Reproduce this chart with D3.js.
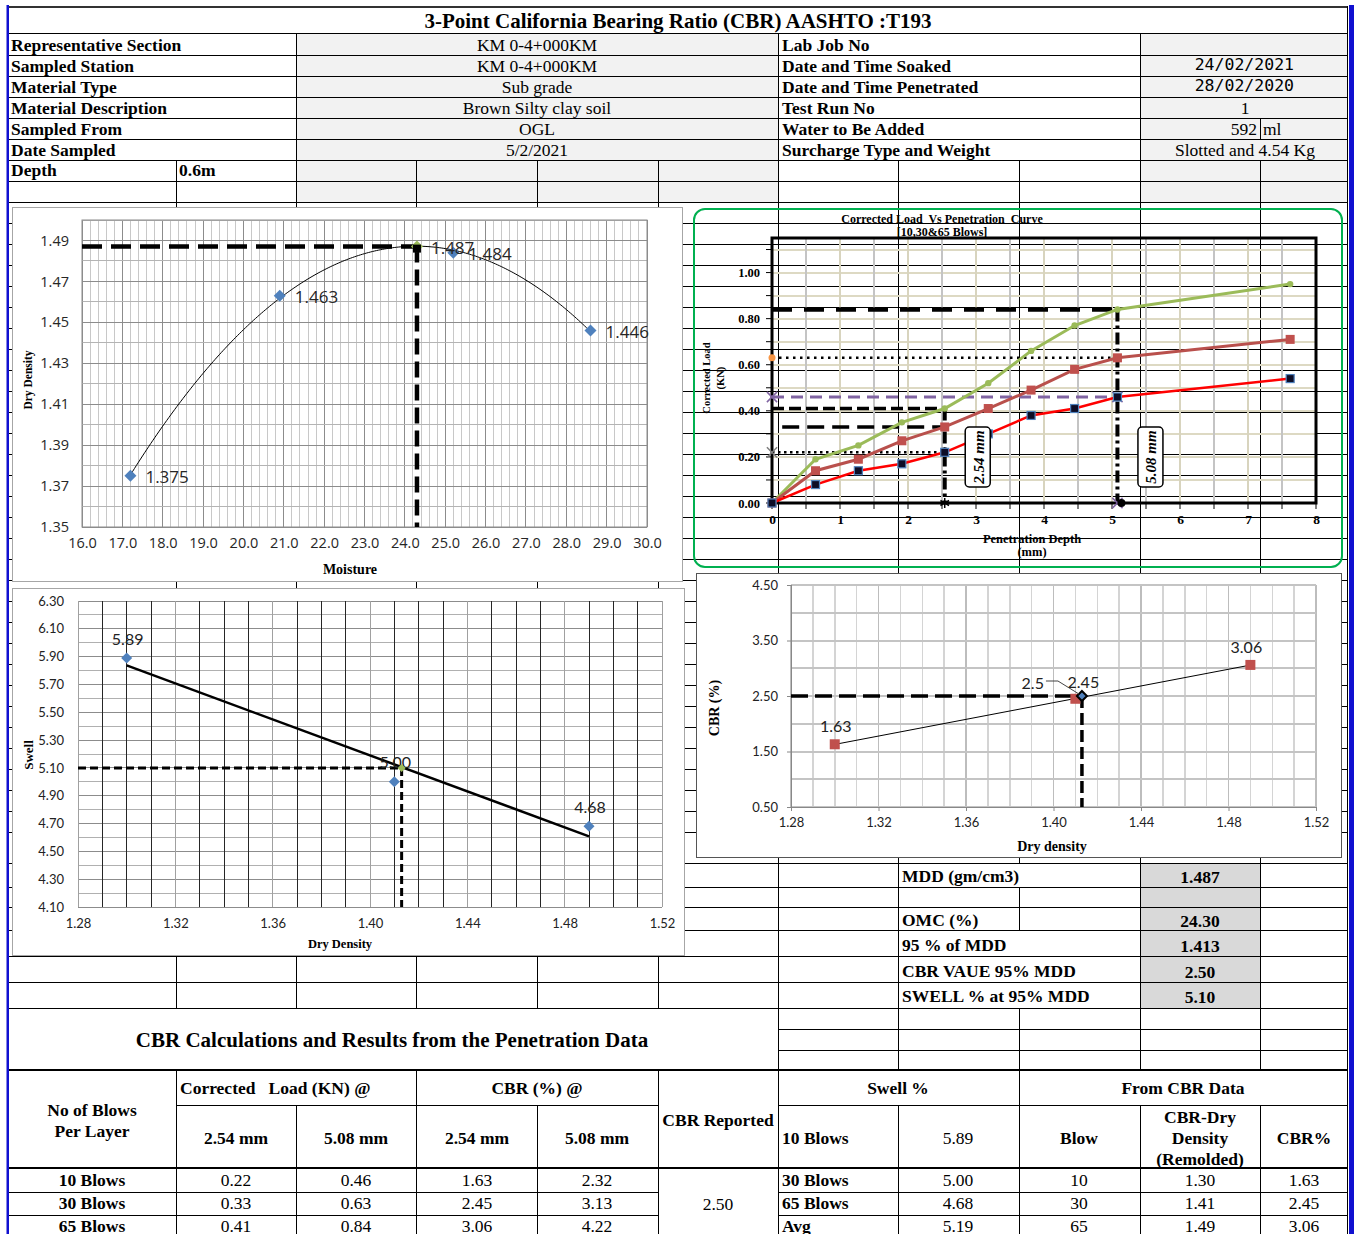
<!DOCTYPE html>
<html>
<head>
<meta charset="utf-8">
<script src="https://cdn.jsdelivr.net/npm/d3@7"></script>
<style>
  body { margin: 0; background: #fff; }
  svg { display: block; }
</style>
</head>
<body>
<svg id="sheet" width="1354" height="1234"></svg>
<script>
// ---------- sheet data ----------
const reportTitle = "3-Point California Bearing Ratio (CBR) AASHTO :T193";
const infoLeftLabels = ["Representative Section", "Sampled  Station", "Material Type", "Material Description", "Sampled From", "Date Sampled"];
const infoLeftValues = ["KM 0-4+000KM", "KM 0-4+000KM", "Sub grade", "Brown Silty clay soil", "OGL", "5/2/2021"];
const infoRightLabels = ["Lab Job No", "Date and Time Soaked", "Date and Time  Penetrated", "Test Run No", "Water to Be Added", "Surcharge Type and Weight"];
const infoRightValues = ["", "24/02/2021", "28/02/2020", "1", "592", "Slotted and 4.54 Kg"];
const depthValue = "0.6m";

// compaction (moisture / dry density)
const moisture = [17.2, 20.9, 25.2, 28.6];
const dryDensity = [1.375, 1.463, 1.484, 1.446];
const mdd = 1.487;
const omc = 24.30;
const moistureTicks = [16, 17, 18, 19, 20, 21, 22, 23, 24, 25, 26, 27, 28, 29, 30];
const densityTicks = [1.35, 1.37, 1.39, 1.41, 1.43, 1.45, 1.47, 1.49];

// load vs penetration
const penetration = [0, 0.64, 1.27, 1.91, 2.54, 3.18, 3.81, 4.45, 5.08, 7.62];
const load10 = [0, 0.08, 0.14, 0.17, 0.22, 0.30, 0.38, 0.41, 0.46, 0.54];
const load30 = [0, 0.14, 0.19, 0.27, 0.33, 0.41, 0.49, 0.58, 0.63, 0.71];
const load65 = [0, 0.19, 0.25, 0.35, 0.41, 0.52, 0.66, 0.77, 0.84, 0.95];
const penTicks = [0, 1, 2, 3, 4, 5, 6, 7, 8];
const loadTicks = [0, 0.2, 0.4, 0.6, 0.8, 1.0];

// results per compaction effort
const blowLabels = ["10 Blows", "30 Blows", "65 Blows"];
const blows = [10, 30, 65];
const load254 = [0.22, 0.33, 0.41];
const load508 = [0.46, 0.63, 0.84];
const cbr254 = [1.63, 2.45, 3.06];
const cbr508 = [2.32, 3.13, 4.22];
const remoldedDensity = [1.30, 1.41, 1.49];
const swell = [5.89, 5.00, 4.68];
const mdd95 = 1.413;
const cbrAt95 = 2.50;
const swellAt95 = 5.10;
const cbrReported = 2.50;
const swellTicks = [4.10, 4.30, 4.50, 4.70, 4.90, 5.10, 5.30, 5.50, 5.70, 5.90, 6.10, 6.30];
const densityTicks2 = [1.28, 1.32, 1.36, 1.40, 1.44, 1.48, 1.52];
const cbrTicks = [0.50, 1.50, 2.50, 3.50, 4.50];

// ---------- helpers ----------
const svg = d3.select("#sheet");
const SERIF = "'Liberation Serif','Times New Roman',serif";
const SANS = "Lato,'Open Sans',sans-serif";
const GOTHIC = "'Open Sans','DejaVu Sans',sans-serif";
const MONO = "'DejaVu Sans Mono','Liberation Mono',monospace";
const FS = 17.5;
const cols = [8, 176, 296, 416, 537, 658, 778, 898, 1019, 1140, 1260, 1348];
const inner = cols.slice(1, -1);

svg.append("rect").attr("width", 1354).attr("height", 1234).attr("fill", "#fff");
const fillG = svg.append("g");
const gridG = svg.append("g").attr("stroke", "#000").attr("shape-rendering", "crispEdges");
const chartG = svg.append("g");
const textG = svg.append("g");

function fillCell(x0, y0, x1, y1, c) {
  fillG.append("rect").attr("x", x0).attr("y", y0).attr("width", x1 - x0).attr("height", y1 - y0).attr("fill", c);
}
function hline(y, x0, x1, w = 1, c = "#000") {
  gridG.append("line").attr("x1", x0).attr("x2", x1).attr("y1", y).attr("y2", y).attr("stroke-width", w).attr("stroke", c);
}
function vline(x, y0, y1, w = 1, c = "#000") {
  gridG.append("line").attr("x1", x).attr("x2", x).attr("y1", y0).attr("y2", y1).attr("stroke-width", w).attr("stroke", c);
}
function txt(g, s, x, y, o = {}) {
  return g.append("text").attr("x", x).attr("y", y).text(s)
    .attr("font-family", o.family || SERIF)
    .attr("font-size", o.size || FS)
    .attr("font-weight", o.bold ? "bold" : "normal")
    .attr("font-style", o.italic ? "italic" : "normal")
    .attr("text-anchor", o.anchor || "start")
    .attr("dominant-baseline", "central")
    .attr("fill", o.fill || "#000");
}
function polyfit(xs, ys, order) {
  const mx = d3.mean(xs);
  const n = order + 1;
  const A = Array.from({ length: n }, () => new Array(n + 1).fill(0));
  xs.forEach((x0, i) => {
    const x = x0 - mx;
    for (let r = 0; r < n; r++) {
      for (let c = 0; c < n; c++) A[r][c] += Math.pow(x, r + c);
      A[r][n] += ys[i] * Math.pow(x, r);
    }
  });
  for (let i = 0; i < n; i++) {
    let p = i;
    for (let k = i + 1; k < n; k++) if (Math.abs(A[k][i]) > Math.abs(A[p][i])) p = k;
    [A[i], A[p]] = [A[p], A[i]];
    for (let k = i + 1; k < n; k++) {
      const f = A[k][i] / A[i][i];
      for (let c = i; c <= n; c++) A[k][c] -= f * A[i][c];
    }
  }
  const coef = new Array(n).fill(0);
  for (let i = n - 1; i >= 0; i--) {
    let s = A[i][n];
    for (let c = i + 1; c < n; c++) s -= A[i][c] * coef[c];
    coef[i] = s / A[i][i];
  }
  return x => coef.reduce((s, c, k) => s + c * Math.pow(x - mx, k), 0);
}
function diamond(x, y, r) {
  return `M${x},${y - r}L${x + r},${y}L${x},${y + r}L${x - r},${y}Z`;
}

// ---------- sheet rows ----------
const infoTop = 34, rh = 21;
const infoRows = d3.range(7).map(i => infoTop + i * rh);          // 34..160
const midRows = d3.range(160, 833, 21);                           // 160..832
const lowRows = [863, 887, 907, 930, 956, 982, 1008];
const rightRows = [1008, 1029, 1050, 1070];

// fills
fillCell(296, 34, 778, 202, "#F2F2F2");
fillCell(1140, 34, 1348, 202, "#F2F2F2");
fillCell(1140, 863, 1260, 1008, "#D9D9D9");

// horizontal rules
hline(6.5, 8, 1348, 2, "#333");
hline(33.5, 8, 1348, 1.5);
infoRows.slice(1).forEach(y => hline(y, 8, 1348));
midRows.forEach(y => hline(y, 8, 1348));
lowRows.forEach(y => hline(y, 8, 1348));
rightRows.slice(1, 3).forEach(y => hline(y, 778, 1348));
hline(1070, 8, 1348, 1.5);
hline(1105, 176, 658); hline(1105, 778, 1348);
hline(1168, 8, 1348, 1.5);
[1192, 1215].forEach(y => { hline(y, 8, 658); hline(y, 778, 1348); });

// vertical rules
for (let i = 0; i < 6; i++) {
  const y0 = infoRows[i], y1 = infoRows[i + 1];
  [296, 778, 1140].forEach(x => vline(x, y0, y1));
  if (i === 4) vline(1260, y0, y1);
}
inner.forEach(x => vline(x, 160, 863));
for (let i = 0; i < lowRows.length - 1; i++) {
  const merged = i === 0 || i >= 3;
  inner.forEach(x => { if (!(merged && x === 1019)) vline(x, lowRows[i], lowRows[i + 1]); });
}
[778, 898, 1019, 1140, 1260].forEach(x => vline(x, 1008, 1070));
[176, 416, 658, 778, 1019].forEach(x => vline(x, 1070, 1105));
inner.forEach(x => vline(x, 1105, 1238));

// outer frame
vline(1347.5, 6, 1234, 1.5);
svg.append("rect").attr("x", 1349).attr("y", 5).attr("width", 5).attr("height", 1229).attr("fill", "#1010D0");
svg.append("rect").attr("x", 6.5).attr("y", 5).attr("width", 2.5).attr("height", 1229).attr("fill", "#1010D0");

// ---------- header text ----------
txt(textG, reportTitle, 678, 21, { bold: true, size: 21, anchor: "middle" });
infoLeftLabels.forEach((s, i) => {
  const cy = infoRows[i] + rh / 2;
  txt(textG, s, 11, cy, { bold: true });
  txt(textG, infoLeftValues[i], 537, cy, { anchor: "middle" });
  txt(textG, infoRightLabels[i], 782, cy, { bold: true });
});
infoRightValues.forEach((s, i) => {
  const cy = infoRows[i] + rh / 2;
  if (i === 1 || i === 2) txt(textG, s, 1294, cy - 1, { family: MONO, size: 16.5, anchor: "end" });
  else if (i === 4) { txt(textG, s, 1257, cy, { anchor: "end" }); txt(textG, "ml", 1263, cy); }
  else txt(textG, s, 1245, cy, { anchor: "middle" });
});
txt(textG, "Depth", 11, 170, { bold: true });
txt(textG, depthValue, 179, 170, { bold: true });

// ---------- compaction chart ----------
{
  const g = chartG.append("g");
  g.append("rect").attr("x", 12.5).attr("y", 207.5).attr("width", 670).attr("height", 374)
    .attr("fill", "#fff").attr("stroke", "#A6A6A6");
  const x = d3.scaleLinear().domain([16, 30]).range([82, 647]);
  const y = d3.scaleLinear().domain([1.35, 1.50]).range([527, 220]);
  const grid = g.append("g").attr("shape-rendering", "crispEdges");
  d3.range(0, 71).forEach(i => {
    const v = 16 + i * 0.2;
    grid.append("line").attr("x1", x(v)).attr("x2", x(v)).attr("y1", 220).attr("y2", 527)
      .attr("stroke", i % 5 === 0 ? "#8C8C8C" : "#C8C8C8");
  });
  d3.range(0, 16).forEach(i => {
    const v = 1.35 + i * 0.01;
    grid.append("line").attr("x1", 82).attr("x2", 647).attr("y1", y(v)).attr("y2", y(v))
      .attr("stroke", i % 2 === 0 ? "#8C8C8C" : "#B4B4B4");
  });
  g.append("rect").attr("x", 82).attr("y", 220).attr("width", 565).attr("height", 307)
    .attr("fill", "none").attr("stroke", "#8C8C8C");

  const ax = g.append("g").attr("transform", "translate(0,527)")
    .call(d3.axisBottom(x).tickValues(moistureTicks).tickFormat(d3.format(".1f")).tickSize(0).tickPadding(11));
  const ay = g.append("g").attr("transform", "translate(82,0)")
    .call(d3.axisLeft(y).tickValues(densityTicks).tickFormat(d3.format(".2f")).tickSize(0).tickPadding(13));
  [ax, ay].forEach(a => {
    a.select(".domain").remove();
    a.selectAll("text").attr("font-family", GOTHIC).attr("font-size", 14.5).attr("fill", "#262626");
  });

  // polynomial trendline of the compaction points
  const fit = polyfit(moisture, dryDensity, 2);
  const pts = d3.range(moisture[0], moisture[moisture.length - 1] + 1e-9, 0.05).map(m => [m, fit(m)]);
  g.append("path").attr("d", d3.line().x(d => x(d[0])).y(d => y(d[1]))(pts))
    .attr("fill", "none").attr("stroke", "#000").attr("stroke-width", 1);

  // MDD / OMC guides
  g.append("path").attr("d", `M${x(16)},${y(mdd)}H${x(omc)}`)
    .attr("stroke", "#000").attr("stroke-width", 4.5).attr("stroke-dasharray", "20,9");
  g.append("path").attr("d", `M${x(omc)},${y(mdd)}V${y(1.35)}`)
    .attr("stroke", "#000").attr("stroke-width", 4.5).attr("stroke-dasharray", "16,7");

  moisture.forEach((m, i) => {
    g.append("path").attr("d", diamond(x(m), y(dryDensity[i]), 6)).attr("fill", "#4F81BD");
  });
  g.append("path").attr("d", diamond(x(omc), y(mdd), 6)).attr("fill", "#9BBB59");
  g.append("rect").attr("x", x(omc) - 4).attr("y", y(mdd) - 2).attr("width", 8).attr("height", 8).attr("fill", "#000");

  moisture.forEach((m, i) => {
    txt(g, d3.format(".3f")(dryDensity[i]), x(m) + 15, y(dryDensity[i]) + 1, { family: GOTHIC, size: 17, fill: "#262626" });
  });
  txt(g, d3.format(".3f")(mdd), x(omc) + 14, y(mdd) + 1, { family: GOTHIC, size: 17, fill: "#262626" });

  txt(g, "Moisture", 350, 569, { bold: true, size: 14, anchor: "middle" });
  txt(g, "Dry Density", 0, 0, { bold: true, size: 11.5, anchor: "middle" })
    .attr("transform", "translate(28,380) rotate(-90)");
}

// ---------- load vs penetration chart ----------
{
  const g = chartG.append("g");
  const x = d3.scaleLinear().domain([0, 8]).range([772, 1316]);
  const y = d3.scaleLinear().domain([0, 1.15]).range([503, 238]);
  const grid = g.append("g").attr("shape-rendering", "crispEdges");
  d3.range(1, 12).forEach(i => {
    grid.append("line").attr("x1", 772).attr("x2", 1316).attr("y1", y(i / 10)).attr("y2", y(i / 10))
      .attr("stroke", "#DDD9C3").attr("stroke-width", 2);
  });
  d3.range(1, 16).forEach(i => {
    grid.append("line").attr("x1", x(i / 2)).attr("x2", x(i / 2)).attr("y1", 238).attr("y2", 503)
      .attr("stroke", i % 2 ? "#C4C4C4" : "#D8D4BE").attr("stroke-width", 1.5);
  });
  g.append("rect").attr("x", 694).attr("y", 209).attr("width", 648).attr("height", 358).attr("rx", 11)
    .attr("fill", "none").attr("stroke", "#00B050").attr("stroke-width", 2);

  // minor ticks
  d3.range(0, 12).forEach(i => {
    g.append("line").attr("x1", 766).attr("x2", 772).attr("y1", y(i / 10)).attr("y2", y(i / 10)).attr("stroke", "#000");
  });
  d3.range(0, 17).forEach(i => {
    g.append("line").attr("x1", x(i / 2)).attr("x2", x(i / 2)).attr("y1", 503).attr("y2", 509).attr("stroke", "#000");
  });

  const ax = g.append("g").attr("transform", "translate(0,503)")
    .call(d3.axisBottom(x).tickValues(penTicks).tickFormat(d3.format("d")).tickSize(0).tickPadding(11));
  const ay = g.append("g").attr("transform", "translate(772,0)")
    .call(d3.axisLeft(y).tickValues(loadTicks).tickFormat(d3.format(".2f")).tickSize(0).tickPadding(12));
  [ax, ay].forEach(a => {
    a.select(".domain").remove();
    a.selectAll("text").attr("font-family", SERIF).attr("font-weight", "bold").attr("font-size", 12.5).attr("fill", "#000");
  });
  ax.selectAll("text").attr("font-size", 13.5);

  g.append("rect").attr("x", 772).attr("y", 238).attr("width", 544).attr("height", 265)
    .attr("fill", "none").attr("stroke", "#000").attr("stroke-width", 3);

  // reading guides at 2.54 mm and 5.08 mm
  const guide = (v, x0, x1, color, w, dash) =>
    g.append("path").attr("d", `M${x(x0)},${y(v)}H${x(x1)}`).attr("stroke", color)
      .attr("stroke-width", w).attr("stroke-dasharray", dash).attr("fill", "none");
  guide(load508[2], 0, 5.16, "#000", 4.5, "20,12");
  guide(load508[1], 0, 5.08, "#000", 2.5, "2.5,4.5");
  guide(load508[0], 0, 5.08, "#8064A2", 3, "12,7");
  guide(load254[2], 0, 2.54, "#000", 3.5, "12,5");
  guide(load254[1], 0.15, 2.54, "#000", 3.5, "17,8");
  guide(load254[0], 0, 2.54, "#000", 2.5, "2.5,3.5");
  g.append("path").attr("d", `M${x(2.54)},${y(load254[2])}V${y(0)}`)
    .attr("stroke", "#000").attr("stroke-width", 4).attr("stroke-dasharray", "12,4,3,4");
  g.append("path").attr("d", `M${x(5.08)},${y(load508[2])}V${y(0)}`)
    .attr("stroke", "#000").attr("stroke-width", 4).attr("stroke-dasharray", "12,4,3,4");

  g.append("circle").attr("cx", x(0)).attr("cy", y(load508[1])).attr("r", 3.5).attr("fill", "#F79646");
  const star = d3.symbol().type(d3.symbolAsterisk).size(70);
  const cross = d3.symbol().type(d3.symbolTimes).size(70);
  [[0, load508[0], cross, "#8064A2"], [5.08, load508[0], cross, "#8064A2"], [0, load254[0], cross, "#7F7F7F"],
   [2.54, 0, star, "#000"], [2.54, load254[0], star, "#000"], [5.08, 0, cross, "#8064A2"]].forEach(([px, py, s, c]) => {
    g.append("path").attr("d", s()).attr("transform", `translate(${x(px)},${y(py)})`)
      .attr("stroke", c).attr("stroke-width", 1.5).attr("fill", "none");
  });
  g.append("circle").attr("cx", x(5.08) + 4).attr("cy", y(0)).attr("r", 4).attr("fill", "#000");

  const line = d3.line().x((d, i) => x(penetration[i])).y(d => y(d));
  g.append("path").attr("d", line(load65)).attr("fill", "none").attr("stroke", "#9BBB59").attr("stroke-width", 3);
  g.append("path").attr("d", line(load30)).attr("fill", "none").attr("stroke", "#B9504C").attr("stroke-width", 3);
  g.append("path").attr("d", line(load10)).attr("fill", "none").attr("stroke", "#FF0000").attr("stroke-width", 2.5);
  load65.forEach((v, i) => g.append("circle").attr("cx", x(penetration[i])).attr("cy", y(v)).attr("r", 3.2).attr("fill", "#9BBB59"));
  load30.forEach((v, i) => g.append("rect").attr("x", x(penetration[i]) - 4.5).attr("y", y(v) - 4.5)
    .attr("width", 9).attr("height", 9).attr("fill", "#C0504D"));
  load10.forEach((v, i) => g.append("rect").attr("x", x(penetration[i]) - 4).attr("y", y(v) - 4)
    .attr("width", 8).attr("height", 8).attr("fill", "#0D0D26").attr("stroke", "#4F81BD").attr("stroke-width", 1.2));

  // depth call-outs
  [[2.54, "2.54 mm"], [5.08, "5.08 mm"]].forEach(([d, s]) => {
    const cx = x(d) + 33, cy = 457;
    g.append("rect").attr("x", cx - 12.5).attr("y", cy - 30).attr("width", 25).attr("height", 60).attr("rx", 4)
      .attr("fill", "#fff").attr("stroke", "#000").attr("stroke-width", 1.5);
    txt(g, s, 0, 0, { bold: true, italic: true, size: 15, anchor: "middle" })
      .attr("transform", `translate(${cx + 1},${cy}) rotate(-90)`);
  });

  txt(g, "Corrected Load  Vs Penetration  Curve", 942, 219, { bold: true, size: 12, anchor: "middle" }).style("white-space", "pre");
  txt(g, "[10,30&65 Blows]", 942, 232, { bold: true, size: 12, anchor: "middle" });
  txt(g, "Penetration Depth", 1032, 539, { bold: true, size: 12.5, anchor: "middle" });
  txt(g, "(mm)", 1032, 552, { bold: true, size: 12.5, anchor: "middle" });
  txt(g, "Corrected Load", 0, 0, { bold: true, size: 10.5, anchor: "middle" }).attr("transform", "translate(706,378) rotate(-90)");
  txt(g, "(KN)", 0, 0, { bold: true, size: 10.5, anchor: "middle" }).attr("transform", "translate(720,378) rotate(-90)");
}

// ---------- swell vs dry density chart ----------
{
  const g = chartG.append("g");
  g.append("rect").attr("x", 12.5).attr("y", 588.5).attr("width", 672).attr("height", 367)
    .attr("fill", "#fff").attr("stroke", "#A6A6A6");
  const x = d3.scaleLinear().domain([1.28, 1.52]).range([78, 662]);
  const y = d3.scaleLinear().domain([4.10, 6.30]).range([907, 601]);
  const grid = g.append("g").attr("shape-rendering", "crispEdges");
  d3.range(0, 23).forEach(i => {
    const v = 4.10 + i * 0.1;
    grid.append("line").attr("x1", 78).attr("x2", 662).attr("y1", y(v)).attr("y2", y(v))
      .attr("stroke", i % 2 === 0 ? "#8C8C8C" : "#B0B0B0");
  });
  d3.range(0, 25).forEach(i => {
    const v = 1.28 + i * 0.01;
    grid.append("line").attr("x1", x(v)).attr("x2", x(v)).attr("y1", 601).attr("y2", 907)
      .attr("stroke", i % 4 === 0 ? "#A0A0A0" : "#262626");
  });
  const ax = g.append("g").attr("transform", "translate(0,907)")
    .call(d3.axisBottom(x).tickValues(densityTicks2).tickFormat(d3.format(".2f")).tickSize(0).tickPadding(12));
  const ay = g.append("g").attr("transform", "translate(78,0)")
    .call(d3.axisLeft(y).tickValues(swellTicks).tickFormat(d3.format(".2f")).tickSize(0).tickPadding(14));
  [ax, ay].forEach(a => {
    a.select(".domain").remove();
    a.selectAll("text").attr("font-family", SANS).attr("font-size", 13).attr("fill", "#222");
  });

  const fit = polyfit(remoldedDensity, swell, 1);
  const d0 = remoldedDensity[0], d1 = remoldedDensity[remoldedDensity.length - 1];
  g.append("line").attr("x1", x(d0)).attr("y1", y(fit(d0))).attr("x2", x(d1)).attr("y2", y(fit(d1)))
    .attr("stroke", "#000").attr("stroke-width", 2.5);

  g.append("path").attr("d", `M${x(1.28)},${y(swellAt95)}H${x(mdd95)}`)
    .attr("stroke", "#000").attr("stroke-width", 3).attr("stroke-dasharray", "8,4");
  g.append("path").attr("d", `M${x(mdd95)},${y(swellAt95)}V${y(4.10)}`)
    .attr("stroke", "#000").attr("stroke-width", 3).attr("stroke-dasharray", "8,4");

  remoldedDensity.forEach((d, i) => {
    g.append("path").attr("d", diamond(x(d), y(swell[i]), 5.5)).attr("fill", "#4F81BD");
    txt(g, d3.format(".2f")(swell[i]), x(d) + 1, y(swell[i]) - 20, { family: SANS, size: 16, anchor: "middle", fill: "#222" });
  });
  g.append("path").attr("d", diamond(x(mdd95), y(swellAt95), 4)).attr("fill", "#9BBB59");

  txt(g, "Dry Density", 340, 944, { bold: true, size: 12.5, anchor: "middle" });
  txt(g, "Swell", 0, 0, { bold: true, size: 13, anchor: "middle" }).attr("transform", "translate(28,755) rotate(-90)");
}

// ---------- CBR vs dry density chart ----------
{
  const g = chartG.append("g");
  g.append("rect").attr("x", 696.5).attr("y", 573.5).attr("width", 645).attr("height", 284)
    .attr("fill", "#fff").attr("stroke", "#555");
  const x = d3.scaleLinear().domain([1.28, 1.52]).range([791, 1316]);
  const y = d3.scaleLinear().domain([0.5, 4.5]).range([807, 585]);
  const grid = g.append("g").attr("shape-rendering", "crispEdges");
  d3.range(0, 25).forEach(i => {
    const v = 1.28 + i * 0.01;
    grid.append("line").attr("x1", x(v)).attr("x2", x(v)).attr("y1", 585).attr("y2", 807)
      .attr("stroke", i % 4 === 0 ? "#BDBDBD" : "#D4D4D4").attr("stroke-width", 1.5);
  });
  d3.range(0, 9).forEach(i => {
    const v = 0.5 + i * 0.5;
    grid.append("line").attr("x1", 791).attr("x2", 1316).attr("y1", y(v)).attr("y2", y(v))
      .attr("stroke", "#C4C4C4").attr("stroke-width", 2);
  });
  grid.append("line").attr("x1", 791).attr("x2", 791).attr("y1", 585).attr("y2", 807).attr("stroke", "#888");
  grid.append("line").attr("x1", 791).attr("x2", 1316).attr("y1", 807).attr("y2", 807).attr("stroke", "#888");
  const ax = g.append("g").attr("transform", "translate(0,807)")
    .call(d3.axisBottom(x).tickValues(densityTicks2).tickFormat(d3.format(".2f")).tickSize(4).tickPadding(7));
  const ay = g.append("g").attr("transform", "translate(791,0)")
    .call(d3.axisLeft(y).tickValues(cbrTicks).tickFormat(d3.format(".2f")).tickSize(4).tickPadding(9));
  [ax, ay].forEach(a => {
    a.select(".domain").remove();
    a.selectAll("line").attr("stroke", "#888");
    a.selectAll("text").attr("font-family", SANS).attr("font-size", 13).attr("fill", "#222");
  });

  const fit = polyfit(remoldedDensity, cbr254, 1);
  const d0 = remoldedDensity[0], d1 = remoldedDensity[remoldedDensity.length - 1];
  g.append("line").attr("x1", x(d0)).attr("y1", y(fit(d0))).attr("x2", x(d1)).attr("y2", y(fit(d1)))
    .attr("stroke", "#000").attr("stroke-width", 1);

  g.append("path").attr("d", `M${x(1.28)},${y(cbrAt95)}H${x(mdd95)}`)
    .attr("stroke", "#000").attr("stroke-width", 3.5).attr("stroke-dasharray", "17,7");
  g.append("path").attr("d", `M${x(mdd95)},${y(cbrAt95)}V${y(0.5)}`)
    .attr("stroke", "#000").attr("stroke-width", 3.5).attr("stroke-dasharray", "12,5");

  remoldedDensity.forEach((d, i) => {
    g.append("rect").attr("x", x(d) - 5).attr("y", y(cbr254[i]) - 5).attr("width", 10).attr("height", 10).attr("fill", "#C0504D");
  });
  txt(g, d3.format(".2f")(cbr254[0]), x(remoldedDensity[0]) + 1, y(cbr254[0]) - 19, { family: SANS, size: 16, anchor: "middle", fill: "#222" });
  txt(g, d3.format(".2f")(cbr254[1]), x(remoldedDensity[1]) + 8, y(cbr254[1]) - 17, { family: SANS, size: 16, anchor: "middle", fill: "#222" });
  txt(g, d3.format(".2f")(cbr254[2]), x(remoldedDensity[2]) - 4, y(cbr254[2]) - 18, { family: SANS, size: 16, anchor: "middle", fill: "#222" });

  g.append("path").attr("d", diamond(x(mdd95), y(cbrAt95), 5)).attr("fill", "#4F81BD").attr("stroke", "#000").attr("stroke-width", 2);
  g.append("path").attr("d", `M${x(mdd95) - 36},${y(cbrAt95) - 15}L${x(mdd95) - 24},${y(cbrAt95) - 15}L${x(mdd95) - 3},${y(cbrAt95) - 2}`)
    .attr("fill", "none").attr("stroke", "#444").attr("stroke-width", 1);
  txt(g, String(cbrAt95), x(mdd95) - 38, y(cbrAt95) - 14, { family: SANS, size: 16, anchor: "end", fill: "#222" });

  txt(g, "Dry density", 1052, 846, { bold: true, size: 14, anchor: "middle" });
  txt(g, "CBR (%)", 0, 0, { bold: true, size: 14, anchor: "middle" }).attr("transform", "translate(714,708) rotate(-90)");
}

// ---------- summary cells ----------
const summaryLabels = ["MDD (gm/cm3)", "OMC (%)", "95 % of MDD", "CBR VAUE 95% MDD", "SWELL % at 95% MDD"];
const summaryValues = [d3.format(".3f")(mdd), d3.format(".2f")(omc), d3.format(".3f")(mdd95), d3.format(".2f")(cbrAt95), d3.format(".2f")(swellAt95)];
const summaryY = [876, 920, 945, 971, 996];
summaryLabels.forEach((s, i) => {
  txt(textG, s, 902, summaryY[i], { bold: true }).style("white-space", "pre");
  txt(textG, summaryValues[i], 1200, summaryY[i] + 1, { bold: true, anchor: "middle" });
});

txt(textG, "CBR Calculations and Results from the Penetration Data", 392, 1040, { bold: true, size: 21, anchor: "middle" });

// ---------- results table ----------
txt(textG, "No of Blows", 92, 1110, { bold: true, anchor: "middle" });
txt(textG, "Per Layer", 92, 1131, { bold: true, anchor: "middle" });
txt(textG, "Corrected   Load (KN) @", 180, 1088, { bold: true }).style("white-space", "pre");
txt(textG, "CBR (%) @", 537, 1088, { bold: true, anchor: "middle" });
txt(textG, "CBR Reported", 718, 1120, { bold: true, anchor: "middle" });
txt(textG, "Swell %", 898, 1088, { bold: true, anchor: "middle" });
txt(textG, "From CBR Data", 1183, 1088, { bold: true, anchor: "middle" });
[[236, "2.54 mm"], [356, "5.08 mm"], [477, "2.54 mm"], [597, "5.08 mm"]].forEach(([cx, s]) =>
  txt(textG, s, cx, 1138, { bold: true, anchor: "middle" }));
txt(textG, "Blow", 1079, 1138, { bold: true, anchor: "middle" });
txt(textG, "CBR-Dry", 1200, 1117, { bold: true, anchor: "middle" });
txt(textG, "Density", 1200, 1138, { bold: true, anchor: "middle" });
txt(textG, "(Remolded)", 1200, 1159, { bold: true, anchor: "middle" });
txt(textG, "CBR%", 1304, 1138, { bold: true, anchor: "middle" });

const swellRows = [["10 Blows", swell[0]], ["30 Blows", swell[1]], ["65 Blows", swell[2]], ["Avg", d3.mean(swell)]];
txt(textG, swellRows[0][0], 782, 1138, { bold: true });
txt(textG, d3.format(".2f")(swellRows[0][1]), 958, 1138, { anchor: "middle" });

const dataY = [1180, 1203, 1226];
const f2 = d3.format(".2f");
blowLabels.forEach((b, i) => {
  const cy = dataY[i];
  txt(textG, b, 92, cy, { bold: true, anchor: "middle" });
  txt(textG, f2(load254[i]), 236, cy, { anchor: "middle" });
  txt(textG, f2(load508[i]), 356, cy, { anchor: "middle" });
  txt(textG, f2(cbr254[i]), 477, cy, { anchor: "middle" });
  txt(textG, f2(cbr508[i]), 597, cy, { anchor: "middle" });
  txt(textG, swellRows[i + 1][0], 782, cy, { bold: true });
  txt(textG, f2(swellRows[i + 1][1]), 958, cy, { anchor: "middle" });
  txt(textG, String(blows[i]), 1079, cy, { anchor: "middle" });
  txt(textG, f2(remoldedDensity[i]), 1200, cy, { anchor: "middle" });
  txt(textG, f2(cbr254[i]), 1304, cy, { anchor: "middle" });
});
txt(textG, f2(cbrReported), 718, 1204, { anchor: "middle" });
</script>
</body>
</html>
